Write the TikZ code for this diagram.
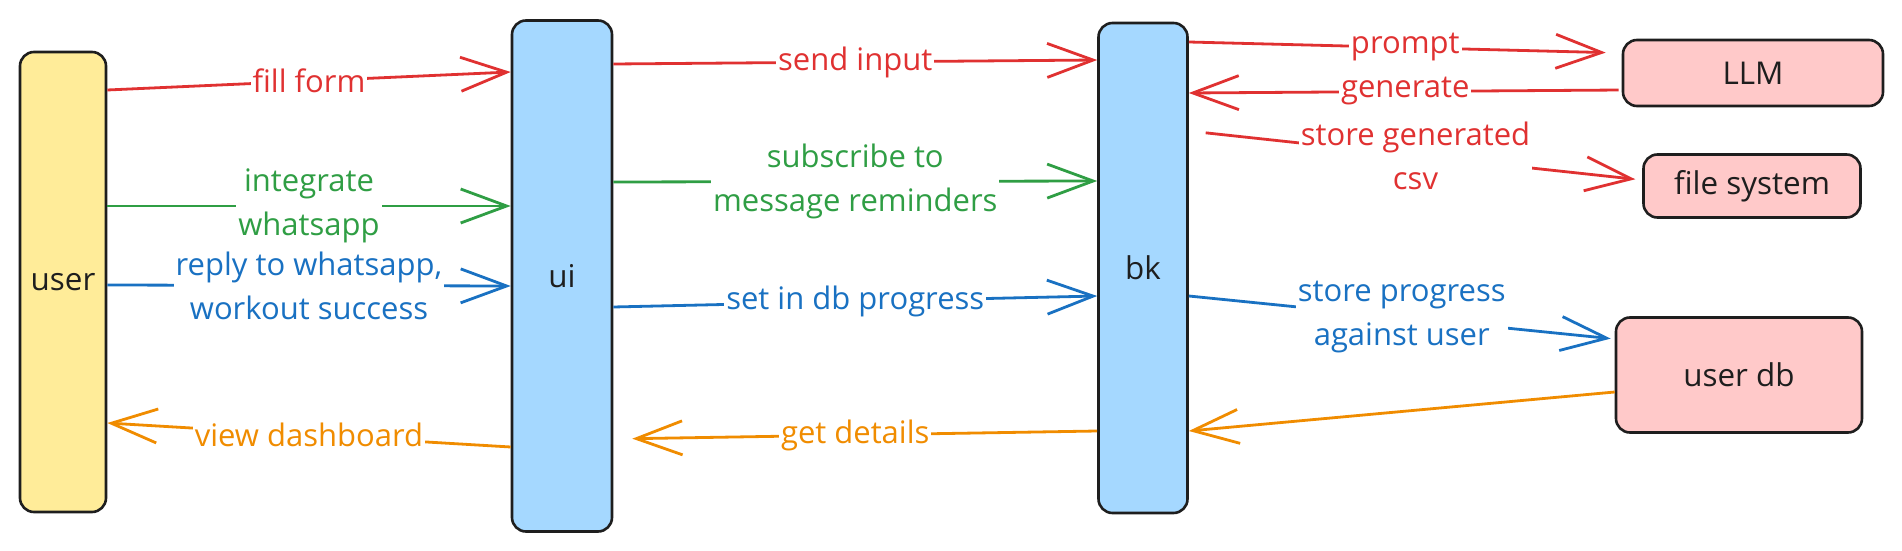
\documentclass[tikz,border=0pt]{standalone}
\usepackage{fontspec}
\setmainfont{Open Sans}
\usetikzlibrary{arrows.meta}
\definecolor{cred}{HTML}{E03131}
\definecolor{cgreen}{HTML}{2F9E44}
\definecolor{cblue}{HTML}{1971C2}
\definecolor{corange}{HTML}{F08C00}
\definecolor{cdark}{HTML}{1E1E1E}
\definecolor{cyellow}{HTML}{FFEC99}
\definecolor{clblue}{HTML}{A5D8FF}
\definecolor{cpink}{HTML}{FFC9C9}
\begin{document}
\begin{tikzpicture}[x=0.5pt,y=-0.5pt,
  box/.style={draw=cdark, line width=1.3pt, rounded corners=7pt, inner sep=0pt,
    font=\fontsize{15.7}{20}\selectfont, text=cdark},
  conn/.style={line width=1.4pt, -{Straight Barb[length=23pt,width=17pt]}},
  lbl/.style={fill=white, inner sep=1pt, align=center, font=\fontsize{15.5}{22}\selectfont},
]
\useasboundingbox (0,0) rectangle (1902,551);
% boxes
\node[box, fill=cyellow, minimum width=43pt, minimum height=230pt] (user) at (63,282) {user};
\node[box, fill=clblue, minimum width=50pt, minimum height=255.5pt] (ui) at (562,276) {ui};
\node[box, fill=clblue, minimum width=44.5pt, minimum height=245pt] (bk) at (1143,268) {bk};
\node[box, fill=cpink, minimum width=130pt, minimum height=33pt] (llm) at (1753,73) {LLM};
\node[box, fill=cpink, minimum width=108.5pt, minimum height=31.5pt] (fs) at (1752,186) {file system};
\node[box, fill=cpink, minimum width=123pt, minimum height=57.5pt] (udb) at (1739,375) {user db};
% red
\draw[conn, cred] ([yshift=96pt]user.east) -- node[lbl]{fill form} ([yshift=102pt]ui.west);
\draw[conn, cred] ([yshift=106pt]ui.east) -- node[lbl]{send input} ([yshift=104pt]bk.west);
\draw[conn, cred, shorten >=8pt] ([yshift=113pt]bk.east) -- node[lbl]{prompt} ([yshift=10pt]llm.west);
\draw[conn, cred, shorten <=1.5pt] ([yshift=-8.5pt]llm.west) -- node[lbl]{generate} ([yshift=87.5pt]bk.east);
\draw[conn, cred, shorten <=8.5pt, shorten >=3.5pt] ([yshift=68.5pt]bk.east) -- node[lbl]{store generated\\csv} ([yshift=3pt]fs.west);
% green
\draw[conn, cgreen] ([yshift=38pt]user.east) -- node[lbl]{integrate\\whatsapp} ([yshift=35pt]ui.west);
\draw[conn, cgreen] ([yshift=47pt]ui.east) -- node[lbl]{subscribe to\\message reminders} ([yshift=43.5pt]bk.west);
% blue
\draw[conn, cblue] ([yshift=-1.5pt]user.east) -- node[lbl]{reply to whatsapp,\\workout success} ([yshift=-5pt]ui.west);
\draw[conn, cblue] ([yshift=-15.5pt]ui.east) -- node[lbl]{set in db progress} ([yshift=-14pt]bk.west);
\draw[conn, cblue, shorten >=2pt] ([yshift=-14pt]bk.east) -- node[lbl]{store progress\\against user} ([yshift=18pt]udb.west);
% orange
\draw[conn, corange] ([yshift=-85.5pt]ui.west) -- node[lbl]{view dashboard} ([yshift=-70.5pt]user.east);
\draw[conn, corange, shorten >=9.5pt] ([yshift=-81.5pt]bk.west) -- node[lbl]{get details} ([yshift=-81.5pt]ui.east);
\draw[conn, corange] ([yshift=-8.5pt]udb.west) -- ([yshift=-81.5pt]bk.east);
\end{tikzpicture}
\end{document}
